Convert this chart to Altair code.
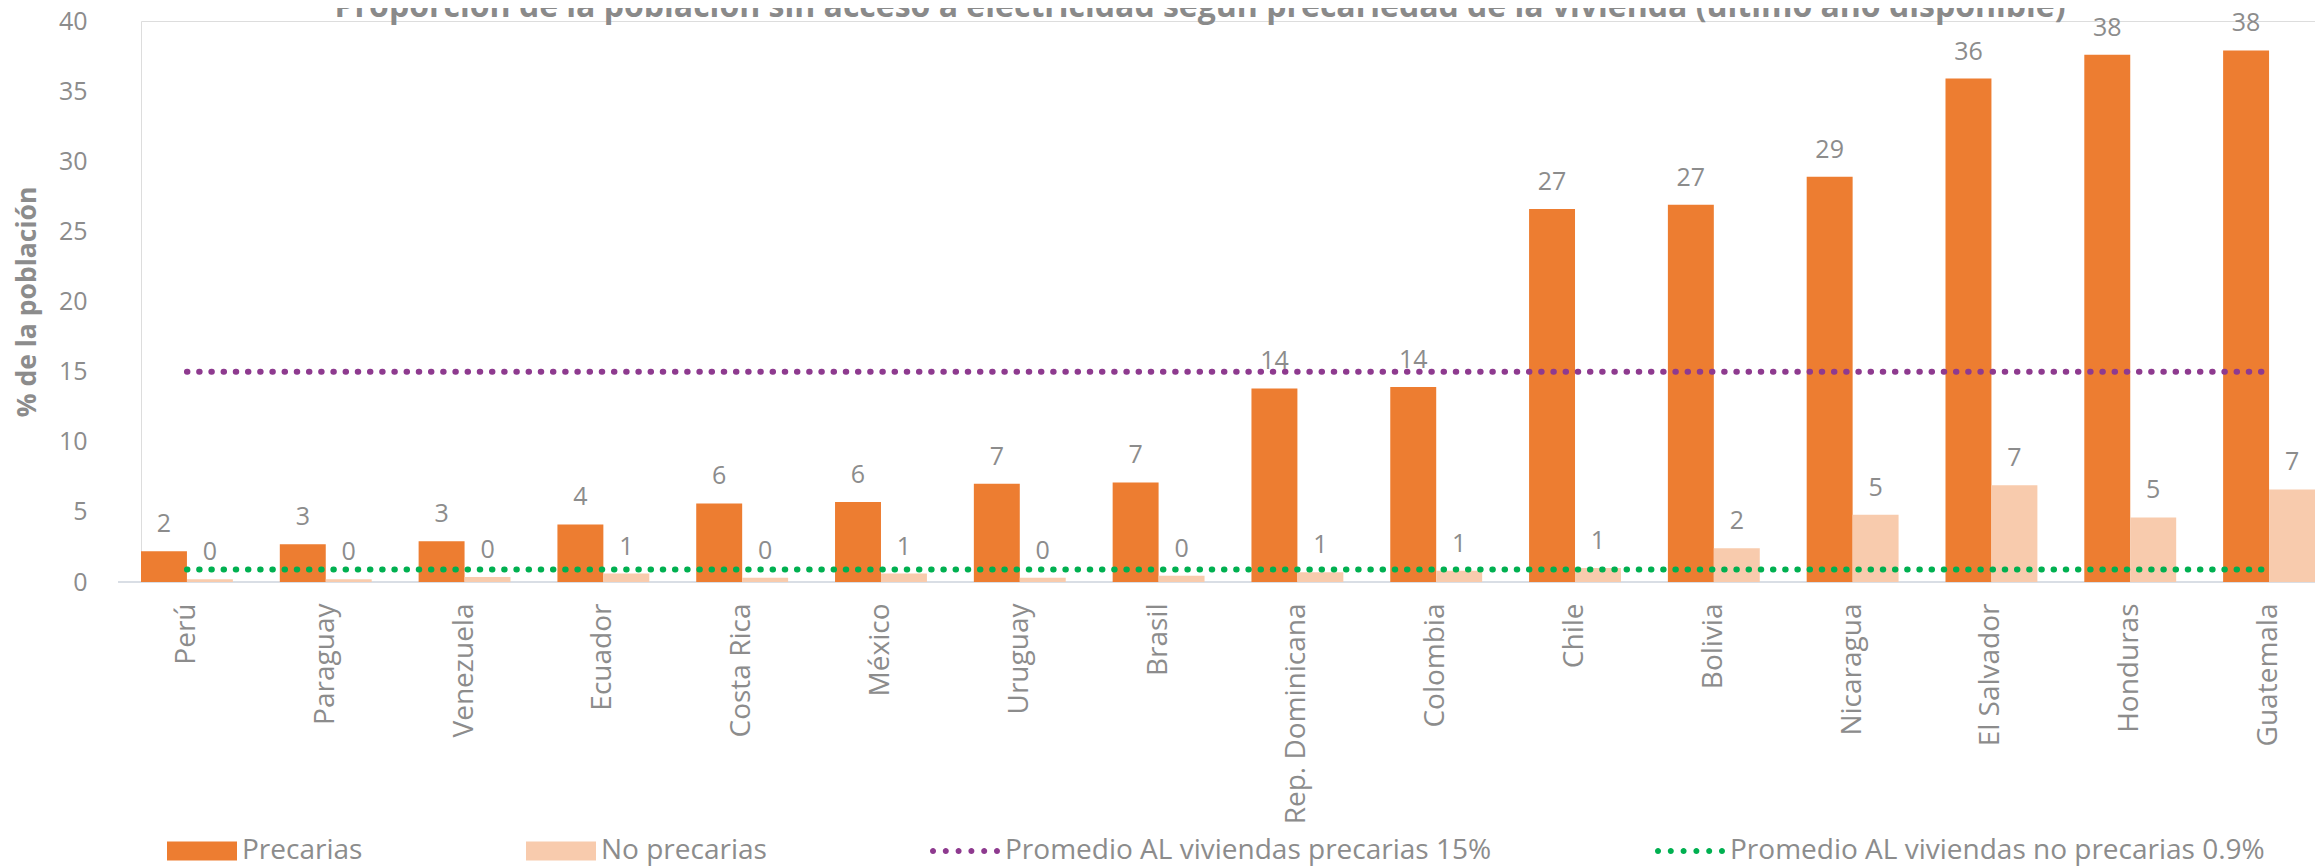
import altair as alt
import pandas as pd

# ---------------- data ----------------
countries = ["Perú", "Paraguay", "Venezuela", "Ecuador", "Costa Rica", "México",
             "Uruguay", "Brasil", "Rep. Dominicana", "Colombia", "Chile", "Bolivia",
             "Nicaragua", "El Salvador", "Honduras", "Guatemala"]
precarias = [2.2, 2.7, 2.9, 4.1, 5.6, 5.7, 7.0, 7.1, 13.8, 13.9, 26.6, 26.9, 28.9, 35.9, 37.6, 37.9]
no_precarias = [0.2, 0.2, 0.35, 0.6, 0.31, 0.6, 0.3, 0.45, 0.7, 0.8, 1.0, 2.4, 4.8, 6.9, 4.6, 6.6]
series = ["Precarias", "No precarias"]
avg_names = ["Promedio AL viviendas precarias 15%", "Promedio AL viviendas no precarias 0.9%"]
avg_values = [15.0, 0.9]
y_ticks = [0, 5, 10, 15, 20, 25, 30, 35, 40]
title_text = ("Proporción de la población sin acceso a electricidad según precariedad "
              "de la vivienda (último año disponible)")
y_title = "% de la población"

# ---------------- styles ----------------
bar_colors = ["#ED7D31", "#F8CBAD"]
avg_colors = ["#8E3A8F", "#00B050"]
gray = "#8C8C8C"
title_gray = "#8A8A8A"
axis_line = "#D9DEE5"
FONT = "Open Sans"

rows = []
for c, p, n in zip(countries, precarias, no_precarias):
    rows.append({"pais": c, "serie": series[0], "valor": p})
    rows.append({"pais": c, "serie": series[1], "valor": n})
bars_df = pd.DataFrame(rows)

line_rows = []
for name, v in zip(avg_names, avg_values):
    for c in (countries[0], countries[-1]):
        line_rows.append({"pais": c, "serie": name, "valor": v})
lines_df = pd.DataFrame(line_rows)

W, H = 2174, 561

x_enc = alt.X(
    "pais:N", sort=countries, title=None,
    scale=alt.Scale(paddingInner=0.338, paddingOuter=0),
    axis=alt.Axis(labelAngle=-90, labelFontSize=28, labelFont=FONT, labelColor=gray,
                  labelPadding=21, ticks=False, tickSize=0, domain=False,
                  labelLimit=600, labelFontWeight="normal"),
)
xoff_enc = alt.XOffset("serie:N", sort=series,
                       scale=alt.Scale(paddingInner=0, paddingOuter=0))
y_enc = alt.Y(
    "valor:Q",
    scale=alt.Scale(domain=[0, 40], nice=False, zero=True),
    axis=alt.Axis(values=y_ticks, grid=False, domain=False, ticks=False, tickSize=0,
                  labelPadding=54, labelFontSize=25, labelFont=FONT, labelColor=gray,
                  title=y_title, titleFont=FONT, titleFontSize=26.5, titleFontWeight="bold",
                  titleColor=gray, titleX=-114, titleY=H / 2, titleAngle=-90,
                  titleAlign="center", titleBaseline="middle"),
)

rect_path = "M-1,-0.271L1,-0.271L1,0.271L-1,0.271Z"
r = 0.086
dots = ""
for i in range(6):
    cx = -0.914 + i * 0.3656
    dots += f"M{cx - r:.4f},0A{r},{r} 0 1,0 {cx + r:.4f},0A{r},{r} 0 1,0 {cx - r:.4f},0Z"
sym_expr = f"indexof(datum.value, 'Promedio') === 0 ? '{dots}' : '{rect_path}'"

color_enc = alt.Color(
    "serie:N",
    scale=alt.Scale(domain=series + avg_names, range=bar_colors + avg_colors),
    legend=alt.Legend(
        title=None, orient="none", legendX=26, legendY=795, direction="horizontal",
        columns=4, columnPadding=163, symbolType={"expr": sym_expr}, symbolSize=4900,
        symbolStrokeWidth=0, labelFontSize=28, labelFont=FONT, labelColor=gray,
        labelOffset=5, labelLimit=900, padding=0, rowPadding=0,
    ),
)

base_rule = alt.Chart(pd.DataFrame({"v": [0]})).mark_rule(
    color=axis_line, strokeWidth=2
).encode(x=alt.value(-23), x2=alt.value(W), y=alt.datum(0))

bars = alt.Chart(bars_df).mark_bar().encode(
    x=x_enc, xOffset=xoff_enc, y=y_enc, color=color_enc
)

labels = alt.Chart(bars_df).mark_text(
    baseline="alphabetic", dy=-19, fontSize=25, font=FONT, color=gray
).encode(x=x_enc, xOffset=xoff_enc, y=y_enc, text=alt.Text("valor:Q", format=".0f"))

lines = alt.Chart(lines_df).mark_line(
    strokeWidth=6, strokeDash=[0.5, 11.7], strokeCap="round"
).encode(
    x=x_enc, y=y_enc,
    stroke=alt.Stroke("serie:N", scale=alt.Scale(domain=avg_names, range=avg_colors),
                      legend=None),
    detail="serie:N",
)

chart = alt.layer(base_rule, bars, lines, labels).properties(
    width=W, height=H,
    title=alt.TitleParams(text=title_text, frame="group", anchor="middle", offset=0,
                          baseline="alphabetic", fontSize=32, font=FONT,
                          fontWeight="bold", color=title_gray, dx=-28, dy=40),
    autosize=alt.AutoSizeParams(type="none"),
    padding={"left": 133, "top": 13, "right": 0, "bottom": 285},
).configure_view(stroke=None).configure(background="white")

chart.save("out.html", embed_options={"renderer": "svg", "actions": False})
